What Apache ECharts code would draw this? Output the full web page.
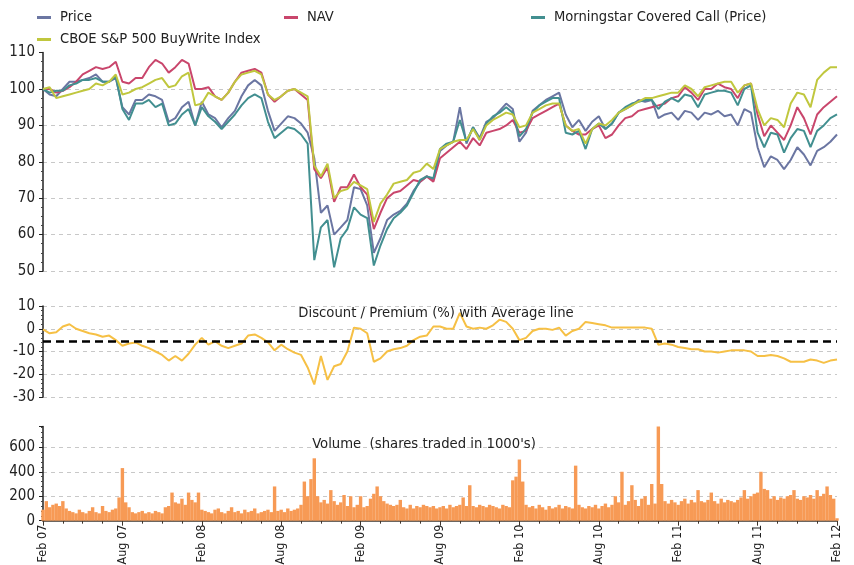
<!DOCTYPE html>
<html>
<head>
<meta charset="utf-8">
<script src="https://cdn.jsdelivr.net/npm/echarts@6/dist/echarts.min.js"></script>
<style>
  html, body { margin: 0; padding: 0; background: #fff; }
  #chart { width: 854px; height: 565px; }
</style>
</head>
<body>
<div id="chart"></div>
<script>
// months since Feb 07; line series sampled every half month, volume every quarter month
const lineStep = 0.5
const volStep = 0.25
const tickLabels = ['Feb 07', 'Aug 07', 'Feb 08', 'Aug 08', 'Feb 09', 'Aug 09', 'Feb 10', 'Aug 10', 'Feb 11', 'Aug 11', 'Feb 12']

const price = [100, 98.5, 98, 100, 102, 102, 102.5, 103, 104, 102, 102, 103, 95, 93, 97, 97, 98.5, 98, 97, 91,
  92, 95, 96.5, 90, 96.5, 93, 92, 89.5, 92, 94, 98, 101, 102.5, 101, 94, 88.5, 90.5, 92.5, 92, 90.5,
  88, 81, 66, 68, 60, 62, 64, 73, 72.5, 68, 55, 59, 64, 65.5, 66.5, 68.5, 72, 74.5, 76, 75,
  83, 84.5, 85.5, 95, 85, 89.5, 86.5, 91, 92, 94, 96, 94.5, 85.5, 88, 94, 95.5, 97, 98, 99, 93,
  89.5, 91.5, 88.5, 91, 92.5, 89, 90.5, 93.5, 94.5, 95.5, 97, 96.5, 97, 92, 93, 93.5, 91.5, 94, 93.5, 91.5,
  93.5, 93, 94, 92.5, 93, 90, 94.5, 93.5, 84, 78.5, 81.5, 80.5, 78, 80.5, 84, 82, 79, 83, 84, 85.5, 87.5]
const nav = [100, 100, 99, 99.5, 100.5, 102, 104, 105, 106, 105.5, 106, 107.5, 102, 101.5, 103, 103, 106, 108, 107, 104.5,
  106, 108, 107, 100, 100, 100.5, 98, 97, 99, 102, 104.5, 105, 105.5, 104.5, 98.5, 96.5, 98, 99.5, 100, 98.5,
  97, 78, 75.5, 78.5, 69, 73, 73, 76.5, 73, 71, 61.5, 66, 70, 71.5, 72, 73.5, 75, 74.5, 76, 74.5,
  81, 82.5, 84, 85.5, 83.5, 86.5, 84.5, 88, 88.5, 89, 90, 91.5, 88, 88.5, 92, 93, 94, 95, 96, 90,
  88.5, 87.5, 87.5, 89, 90, 86.5, 87.5, 90, 92, 92.5, 94, 94.5, 95, 95.5, 96, 97.5, 98, 100.5, 99, 97,
  100, 100, 101.5, 100.5, 100, 97.5, 101, 101.5, 93, 87, 90, 88, 86, 90, 95, 92, 87.5, 93, 95, 96.5, 98]
const coveredCall = [100, 99, 99.5, 99.5, 101, 101.5, 102.5, 102.5, 103, 102, 102, 103.5, 94.5, 91.5, 96, 96, 97, 95, 96, 90,
  90.5, 93, 94.5, 90, 95, 92.5, 91, 89, 91, 93, 95.5, 97.5, 98.5, 97.5, 91, 86.5, 88, 89.5, 89, 87.5,
  85, 53, 62, 64, 51, 59, 61.5, 67.5, 65.5, 64.5, 51.5, 57, 61.5, 64.5, 66, 68, 71.5, 75, 76, 75.5,
  83.5, 85, 85.5, 91.5, 85.5, 89.5, 86, 90.5, 92.5, 93.5, 95, 93.5, 87, 89, 93.5, 95.5, 96.5, 97.5, 97.5, 88,
  87.5, 88.5, 83.5, 89, 90.5, 89, 90.5, 93.5, 95, 96, 96.5, 97, 97, 94.5, 96.5, 97.5, 96.5, 98.5, 98, 95,
  98.5, 99, 99.5, 99.5, 99, 95.5, 100, 101, 88, 84, 88, 87.5, 82.5, 86.5, 89, 88.5, 84, 88.5, 90, 92, 93]
const buyWrite = [100, 100.5, 97.5, 98, 98.5, 99, 99.5, 100, 101.5, 101, 102, 104, 98.5, 99, 100, 100.5, 101.5, 102.5, 103, 100.5,
  101, 103.5, 104.5, 95.5, 96, 99, 98, 97, 99, 102, 104, 104.5, 105, 104, 98.5, 97, 98, 99.5, 100, 99,
  98, 79, 76, 79.5, 70, 72, 72.5, 74.5, 73.5, 72.5, 63.5, 68.5, 71, 74, 74.5, 75, 77, 77.5, 79.5, 78,
  83.5, 84.5, 85.5, 86, 86, 89, 86, 90, 91.5, 92.5, 93.5, 93, 89.5, 90, 93.5, 94.5, 95.5, 96, 96, 90,
  88.5, 89, 85, 89, 90.5, 90, 91.5, 93.5, 94.5, 95.5, 96.5, 97.5, 97.5, 98, 98.5, 99, 99, 101, 100, 98,
  100.5, 101, 101.5, 102, 102, 99, 101, 101.5, 94.5, 90, 92, 91.5, 89.5, 96, 99, 98.5, 95, 102.5, 104.5, 106, 106]

const discount = [-0.3, -2, -1.5, 1, 2, 0, -1, -2, -2.5, -3.5, -3, -5, -7.5, -6.5, -6, -7.5, -8.5, -10, -11.5, -14,
  -12, -14, -11, -7, -4, -7, -5.5, -7.5, -8.5, -7.5, -6.5, -3, -2.5, -4, -6, -9.5, -7, -9, -10.5, -11.5,
  -17, -24.5, -12, -22.5, -16.5, -15.5, -10, 0.5, 0, -2, -14.5, -13, -10, -9, -8.5, -7.5, -5, -3.5, -3, 1,
  1, 0, 0, 7, 1, 0, 0.5, 0, 1.5, 4, 3, 0, -5, -4, -1, 0, 0, -0.5, 0.5, -3,
  -1, 0, 3, 2.5, 2, 1.5, 0.5, 0.5, 0.5, 0.5, 0.5, 0.5, 0, -7, -6.5, -7, -8, -8.5, -9, -9,
  -10, -10, -10.5, -10, -9.5, -9.5, -9.5, -10, -12, -12, -11.5, -12, -13, -14.5, -14.5, -14.5, -13.5, -14, -15, -14, -13.5]
const discountAverage = -5.6

const volume = [90, 160, 110, 130, 140, 120, 160, 100,
  80, 70, 60, 90, 70, 60, 80, 110, 70, 60, 120, 80, 70, 90, 100,
  190, 430, 150, 110, 70,
  60, 70, 80, 60, 70, 60, 80, 70, 60, 110,
  120, 230, 150, 140, 180, 130, 230, 170, 150, 230, 90,
  80, 70, 60, 90, 100, 70, 60, 80, 110, 70, 80, 60, 90, 70, 80, 100, 60, 70, 80, 90, 70,
  280,
  80, 90, 70, 100, 80, 90, 100, 130,
  320, 200, 340, 510, 200, 150, 170, 140, 250, 160, 130, 150, 210, 120, 200, 110, 130, 200, 110, 120,
  180, 220, 280, 200, 160, 140, 130, 120, 130, 170, 110, 100, 130, 100, 120, 110, 130, 120, 110, 120, 100,
  110, 120, 100, 130, 110, 120, 130, 190, 120, 290, 120, 110, 130, 120, 110, 130, 120, 110, 100, 130,
  120, 110, 330, 360, 500, 320, 130, 110, 120, 100, 130, 110, 90, 120, 100, 110, 130, 100, 120, 110, 100,
  450, 130, 110, 100, 120, 110, 130, 100, 120, 140, 110, 130, 200, 150, 400, 130, 160, 290, 170, 120,
  180, 200, 130, 300, 140, 770, 300, 160, 140, 170, 150, 130, 160, 180, 140, 170, 150, 250, 160, 150,
  170, 230, 160, 140, 180, 150, 170, 160, 150, 170, 190, 250, 180, 200, 220, 230, 400, 260, 250, 180,
  200, 170, 190, 180, 200, 210, 250, 180, 170, 200, 190, 210, 180, 250, 200, 220, 280, 210, 180, 20]

const FONT = "'Liberation Sans Narrow', 'DejaVu Sans Condensed', 'Liberation Sans', sans-serif"
const C = { price: '#6b76a2', nav: '#c9466c', cc: '#428f90', bxm: '#c0c73e', disc: '#f6c045', vol: '#f79a55' }

const pts = (arr, step) => arr.map((v, i) => [i * step, v])

const grids = [
  { left: 43, right: 17, top: 52.6, height: 218.4, outerBoundsMode: 'none' },
  { left: 43, right: 17, top: 306, height: 91, outerBoundsMode: 'none' },
  { left: 43, right: 17, top: 426.5, height: 94.2, outerBoundsMode: 'none' }
]

const splitDash = { show: true, lineStyle: { color: '#c8c8c8', type: [4, 4], width: 1 } }
const yBase = {
  type: 'value',
  offset: 2,
  axisLine: { show: true, lineStyle: { color: '#222', width: 1.5 } },
  axisTick: { show: true, length: 4, lineStyle: { color: '#222' } },
  minorTick: { show: true, length: 2, lineStyle: { color: '#444' } },
  axisLabel: { color: '#222', fontSize: 15, fontFamily: FONT, margin: 6 },
  splitLine: splitDash
}

function xAxis(i, visible) {
  return {
    type: 'value', gridIndex: i, min: 0, max: 60, interval: 6,
    axisLine: { show: visible, onZero: false, lineStyle: { color: '#3d342c', width: 1.5 } },
    axisTick: { show: visible, length: 5, lineStyle: { color: '#3d342c' } },
    minorTick: { show: visible, splitNumber: 4, length: 3, lineStyle: { color: '#3d342c' } },
    axisLabel: {
      show: visible, rotate: 90, color: '#222', fontSize: 12.5, fontFamily: FONT, margin: 4,
      formatter: v => tickLabels[Math.round(v / 6)] || ''
    },
    splitLine: { show: false }
  }
}

const legendBase = { icon: 'rect', itemWidth: 14, itemHeight: 3, padding: 0, itemGap: 0,
  textStyle: { color: '#222', fontSize: 14.6, fontFamily: FONT, padding: [0, 0, 0, 4] } }
const titleStyle = { fontSize: 14.7, fontWeight: 'normal', color: '#222', fontFamily: FONT }

const chart = echarts.init(document.getElementById('chart'), null, { renderer: 'canvas' })
chart.setOption({
  animation: false,
  backgroundColor: '#fff',
  textStyle: { fontFamily: FONT },
  title: [
    { text: 'Discount / Premium (%) with Average line', left: 431, top: 301, textAlign: 'center', textStyle: titleStyle },
    { text: "Volume  (shares traded in 1000's)", left: 419, top: 432, textAlign: 'center', textStyle: titleStyle }
  ],
  legend: [
    Object.assign({ data: ['Price'], left: 37, top: 10 }, legendBase),
    Object.assign({ data: ['NAV'], left: 284, top: 10 }, legendBase),
    Object.assign({ data: ['Morningstar Covered Call (Price)'], left: 531, top: 10 }, legendBase),
    Object.assign({ data: ['CBOE S&P 500 BuyWrite Index'], left: 37, top: 32 }, legendBase)
  ],
  grid: grids,
  xAxis: [xAxis(0, false), xAxis(1, false), xAxis(2, true)],
  yAxis: [
    Object.assign({}, yBase, { gridIndex: 0, min: 50, max: 110, interval: 10,
      minorTick: Object.assign({}, yBase.minorTick, { splitNumber: 4 }),
      splitLine: Object.assign({}, splitDash, { showMaxLine: false }) }),
    Object.assign({}, yBase, { gridIndex: 1, min: -30, max: 10, interval: 10,
      minorTick: Object.assign({}, yBase.minorTick, { splitNumber: 5 }) }),
    Object.assign({}, yBase, { gridIndex: 2, min: 0, max: 770, interval: 200,
      minorTick: Object.assign({}, yBase.minorTick, { splitNumber: 5 }),
      axisLabel: Object.assign({}, yBase.axisLabel, { showMaxLabel: false }),
      splitLine: Object.assign({}, splitDash, { showMinLine: false, showMaxLine: false }) })
  ],
  series: [
    { name: 'Price', type: 'line', xAxisIndex: 0, yAxisIndex: 0, data: pts(price, lineStep),
      symbol: 'none', color: C.price, lineStyle: { width: 2 } },
    { name: 'NAV', type: 'line', xAxisIndex: 0, yAxisIndex: 0, data: pts(nav, lineStep),
      symbol: 'none', color: C.nav, lineStyle: { width: 2 } },
    { name: 'Morningstar Covered Call (Price)', type: 'line', xAxisIndex: 0, yAxisIndex: 0, data: pts(coveredCall, lineStep),
      symbol: 'none', color: C.cc, lineStyle: { width: 2 } },
    { name: 'CBOE S&P 500 BuyWrite Index', type: 'line', xAxisIndex: 0, yAxisIndex: 0, data: pts(buyWrite, lineStep),
      symbol: 'none', color: C.bxm, lineStyle: { width: 2 } },
    { name: 'Discount', type: 'line', xAxisIndex: 1, yAxisIndex: 1, data: pts(discount, lineStep),
      symbol: 'none', color: C.disc, lineStyle: { width: 2 }, z: 3,
      markLine: { silent: true, symbol: 'none', label: { show: false },
        lineStyle: { color: '#000', type: [8, 5], width: 2.5 },
        data: [{ yAxis: discountAverage }] } },
    { name: 'Volume', type: 'bar', xAxisIndex: 2, yAxisIndex: 2, data: pts(volume, volStep),
      barWidth: 3.4, color: C.vol }
  ]
})
</script>
</body>
</html>
